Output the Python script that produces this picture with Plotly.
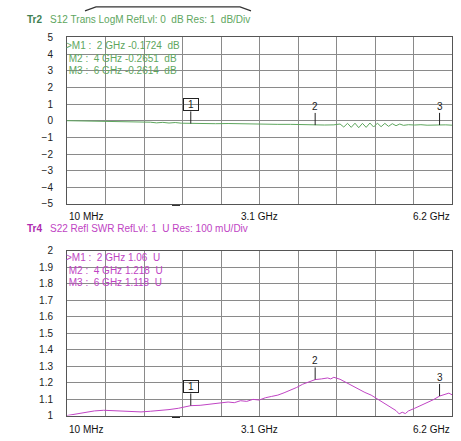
import plotly.graph_objects as go

# ---------------- data ----------------
s12_freq_ghz = [0.01, 0.2, 0.4, 0.6, 0.8, 1.0, 1.2, 1.35, 1.45, 1.55, 1.65, 1.75, 1.85, 2.0,
                2.2, 2.4, 2.6, 2.8, 3.0, 3.2, 3.4, 3.6, 3.8, 4.0, 4.15, 4.3,
                4.40, 4.46, 4.52, 4.58, 4.64, 4.70, 4.76, 4.82, 4.88, 4.94, 5.00, 5.06,
                5.12, 5.18, 5.24, 5.30, 5.36, 5.42, 5.5, 5.6, 5.7, 5.8, 5.9, 6.0, 6.1, 6.2]
s12_db = [0.0, -0.01, -0.02, -0.03, -0.05, -0.08, -0.10, -0.09, -0.13, -0.10, -0.14, -0.11, -0.15, -0.17,
          -0.16, -0.18, -0.17, -0.19, -0.20, -0.21, -0.22, -0.22, -0.24, -0.265, -0.26, -0.25,
          -0.20, -0.38, -0.16, -0.40, -0.15, -0.42, -0.16, -0.40, -0.14, -0.38, -0.15, -0.36,
          -0.16, -0.34, -0.18, -0.30, -0.20, -0.28, -0.24, -0.26, -0.24, -0.27, -0.25, -0.26, -0.25, -0.27]

s22_freq_ghz = [0.01, 0.15, 0.3, 0.45, 0.6, 0.75, 0.9, 1.05, 1.2, 1.35, 1.5, 1.65, 1.8, 1.9, 2.0,
                2.15, 2.3, 2.45, 2.6, 2.7, 2.8, 2.9, 3.0, 3.1, 3.2, 3.3, 3.4, 3.5, 3.6, 3.7, 3.8,
                3.9, 4.0, 4.1, 4.2, 4.25, 4.3, 4.4, 4.5, 4.6, 4.7, 4.8, 4.9, 5.0, 5.1, 5.2, 5.3,
                5.35, 5.4, 5.45, 5.5, 5.6, 5.7, 5.8, 5.9, 6.0, 6.1, 6.15, 6.2]
s22_swr = [1.000, 1.010, 1.020, 1.028, 1.032, 1.030, 1.026, 1.024, 1.022, 1.026, 1.030, 1.036, 1.044, 1.052, 1.060,
           1.062, 1.070, 1.074, 1.082, 1.078, 1.090, 1.086, 1.098, 1.094, 1.108, 1.116, 1.124, 1.138, 1.152, 1.170, 1.190,
           1.206, 1.218, 1.222, 1.228, 1.222, 1.232, 1.220, 1.200, 1.178, 1.160, 1.140, 1.124, 1.100, 1.076, 1.050, 1.030,
           1.010, 1.020, 1.012, 1.028, 1.044, 1.060, 1.076, 1.096, 1.118, 1.130, 1.136, 1.126]

marker_names = ["1", "2", "3"]
marker_freq_ghz = [2.0, 4.0, 6.0]
s12_marker_db = [-0.1724, -0.2651, -0.2614]
s22_marker_swr = [1.06, 1.218, 1.118]

s12_table = [">M1 :  2 GHz -0.1724  dB", " M2 :  4 GHz -0.2651  dB", " M3 :  6 GHz -0.2614  dB"]
s22_table = [">M1 :  2 GHz 1.06  U", " M2 :  4 GHz 1.218  U", " M3 :  6 GHz 1.118  U"]

x_start, x_stop = 0.01, 6.2
x_labels = ["10 MHz", "3.1 GHz", "6.2 GHz"]
s12_range = [-5, 5]
s22_range = [1, 2]
s12_ticks = [5, 4, 3, 2, 1, 0, -1, -2, -3, -4, -5]
s22_ticks = [2, 1.9, 1.8, 1.7, 1.6, 1.5, 1.4, 1.3, 1.2, 1.1, 1]
s22_tick_text = ["2", "1.9", "1.8", "1.7", "1.6", "1.5", "1.4", "1.3", "1.2", "1.1", "1"]

title_tr2 = ("Tr2", "S12 Trans LogM RefLvl: 0  dB Res: 1  dB/Div")
title_tr4 = ("Tr4", "S22 Refl SWR RefLvl: 1  U Res: 100 mU/Div")

# ---------------- layout constants (pixels) ----------------
W, H = 461, 441
L, R = 67, 452
T1, B1 = 32.3, 203.5
T2, B2 = 251.5, 421.0
FONT = "Liberation Sans, Arial, sans-serif"
GREEN = "#5ea65e"
GREEN_D = "#3f7f52"
MAG = "#c044c4"
MAG_D = "#b02cb0"
GRID = "#8a8a8a"
FRAME = "#555555"

def py(y):
    return 1 - y / H

def px(x):
    return x / W

def nb(s):
    return s.replace(" ", "\u00a0")

x_per_px = (x_stop - x_start) / (R - L)
y1_per_px = (s12_range[1] - s12_range[0]) / (B1 - T1)
y2_per_px = (s22_range[1] - s22_range[0]) / (B2 - T2)

fig = go.Figure()

# traces
fig.add_trace(go.Scatter(x=s12_freq_ghz, y=s12_db, mode="lines", line=dict(color=GREEN, width=1),
                         xaxis="x", yaxis="y", hoverinfo="skip"))
fig.add_trace(go.Scatter(x=s22_freq_ghz, y=s22_swr, mode="lines", line=dict(color=MAG, width=1),
                         xaxis="x2", yaxis="y2", hoverinfo="skip"))

# marker triangles below axes
fig.add_trace(go.Scatter(x=marker_freq_ghz, y=[s12_range[0] - 4 * y1_per_px] * 3, mode="markers",
                         marker=dict(symbol="triangle-up", size=8, color="black"), cliponaxis=False,
                         xaxis="x", yaxis="y", hoverinfo="skip"))
fig.add_trace(go.Scatter(x=marker_freq_ghz, y=[s22_range[0] - 5 * y2_per_px] * 3, mode="markers",
                         marker=dict(symbol="triangle-up", size=8, color="black"), cliponaxis=False,
                         xaxis="x2", yaxis="y2", hoverinfo="skip"))

# reference level arrows
fig.add_trace(go.Scatter(x=[x_start - 4 * x_per_px, x_stop + 5 * x_per_px], y=[0, 0], mode="markers",
                         marker=dict(symbol=["triangle-right", "triangle-left"], size=9, color="#3cb44b"),
                         cliponaxis=False, xaxis="x", yaxis="y", hoverinfo="skip"))
fig.add_trace(go.Scatter(x=[x_start - 4 * x_per_px, x_stop + 5 * x_per_px], y=[1, 1], mode="markers",
                         marker=dict(symbol=["triangle-right", "triangle-left"], size=9, color="#e040e0"),
                         cliponaxis=False, xaxis="x2", yaxis="y2", hoverinfo="skip"))

shapes = []
annotations = []

# marker pins and labels
for i, (name, f) in enumerate(zip(marker_names, marker_freq_ghz)):
    for (xr, yr, val, ypp) in (("x", "y", s12_marker_db[i], y1_per_px), ("x2", "y2", s22_marker_swr[i], y2_per_px)):
        top = val + 12.5 * ypp
        shapes.append(dict(type="line", xref=xr, yref=yr, x0=f, x1=f, y0=val, y1=top,
                           line=dict(color="#222", width=1)))
        boxed = (i == 0)
        annotations.append(dict(x=f, y=top, xref=xr, yref=yr, text=name, showarrow=False,
                                yanchor="bottom", xanchor="center",
                                font=dict(family=FONT, size=10, color="#222"),
                                bordercolor="#222" if boxed else "rgba(0,0,0,0)", borderwidth=1,
                                borderpad=0, width=14, height=11, bgcolor="rgba(255,255,255,0)"))

# small dashes near axis bottoms
for yy in (205, 423):
    shapes.append(dict(type="line", xref="paper", yref="paper", x0=px(172), x1=px(180),
                       y0=py(yy), y1=py(yy), line=dict(color="#222", width=1)))

# header bracket
shapes.append(dict(type="path", xref="paper", yref="paper",
                   path=f"M {px(85)},{py(5)} L {px(96)},{py(1)} L {px(240)},{py(1)} L {px(251)},{py(5)}",
                   line=dict(color="#333", width=1.2)))

# titles
for (tr, txt), yy, c1, c2 in ((title_tr2, 14, GREEN_D, GREEN), (title_tr4, 229, MAG_D, MAG)):
    annotations.append(dict(x=px(25), y=py(yy), xref="paper", yref="paper", text=f"<b>{tr}</b>",
                            showarrow=False, xanchor="left", yanchor="middle",
                            font=dict(family=FONT, size=10, color=c1)))
    annotations.append(dict(x=px(48), y=py(yy), xref="paper", yref="paper", text=nb(txt),
                            showarrow=False, xanchor="left", yanchor="middle",
                            font=dict(family=FONT, size=10, color=c2)))

# marker tables
for rows, ys, c in ((s12_table, (41, 53.5, 66), GREEN), (s22_table, (259, 271.5, 284), MAG)):
    for row, yy in zip(rows, ys):
        annotations.append(dict(x=px(64), y=py(yy), xref="paper", yref="paper", text=nb(row),
                                showarrow=False, xanchor="left", yanchor="middle",
                                font=dict(family=FONT, size=10, color=c)))

# x labels
for xr, yy in (("x", 216.5), ("x2", 435.5)):
    for lab, xv, anc in zip(x_labels, [x_start, (x_start + x_stop) / 2, x_stop], ["left", "center", "right"]):
        annotations.append(dict(x=xv, y=py(yy), xref=xr, yref="paper", text=nb(lab), showarrow=False,
                                xanchor=anc, yanchor="middle",
                                font=dict(family=FONT, size=10, color="#111")))

xaxis_common = dict(range=[x_start, x_stop], showticklabels=False, showgrid=True, gridcolor=GRID,
                    gridwidth=1, tick0=x_start, dtick=(x_stop - x_start) / 10, zeroline=False,
                    showline=True, linecolor=FRAME, linewidth=1, mirror=True, ticks="",
                    domain=[L / W, R / W], fixedrange=True)
yaxis_common = dict(showgrid=True, gridcolor=GRID, gridwidth=1, zeroline=False, showline=True,
                    linecolor=FRAME, linewidth=1, mirror=True, ticks="", ticklabelstandoff=11,
                    tickfont=dict(family=FONT, size=10, color="#222"), fixedrange=True)

fig.update_layout(
    width=W, height=H, margin=dict(l=0, r=0, t=0, b=0),
    paper_bgcolor="white", plot_bgcolor="white", showlegend=False,
    xaxis=dict(**xaxis_common, anchor="y"),
    xaxis2=dict(**xaxis_common, anchor="y2"),
    yaxis=dict(**yaxis_common, range=s12_range, tickvals=s12_ticks,
               domain=[py(B1), py(T1)], anchor="x"),
    yaxis2=dict(**yaxis_common, range=s22_range, tickvals=s22_ticks, ticktext=s22_tick_text,
                domain=[py(B2), py(T2)], anchor="x2"),
    shapes=shapes, annotations=annotations,
)

fig.write_html("out.html", config={"displayModeBar": False},
               post_script="document.body.style.margin='0';document.body.style.overflow='hidden';")
